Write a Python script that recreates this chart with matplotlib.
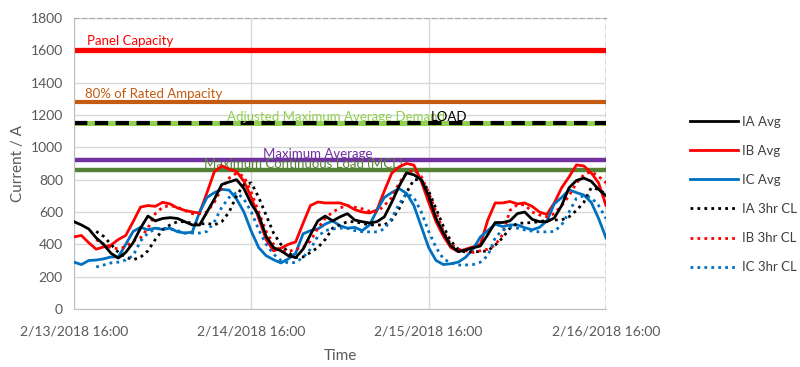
import matplotlib
matplotlib.use("Agg")
import matplotlib.pyplot as plt
import numpy as np
import pandas as pd

# hourly readings from 2/13/2018 16:00 to 2/16/2018 16:00
start = "2018-02-13 16:00"
tick_labels = ["2/13/2018 16:00", "2/14/2018 16:00", "2/15/2018 16:00", "2/16/2018 16:00"]

ia_avg = [540, 520, 495, 440, 400, 345, 315, 350, 410, 500, 575, 545, 560, 565, 560, 540, 520, 520,
          600, 680, 770, 786, 800, 745, 650, 580, 450, 380, 360, 330, 318, 370, 460, 545, 575, 545,
          570, 590, 550, 540, 532, 540, 570, 660, 760, 842, 830, 800, 700, 560, 470, 390, 355, 365,
          378, 390, 460, 535, 535, 545, 590, 600, 555, 540, 540, 563, 640, 750, 795, 810, 790, 740, 700]
ib_avg = [446, 455, 410, 370, 384, 395, 430, 455, 540, 630, 640, 635, 660, 650, 625, 610, 600, 594,
          720, 850, 885, 865, 850, 790, 690, 560, 430, 360, 375, 400, 415, 530, 640, 662, 656, 656,
          656, 640, 615, 600, 594, 613, 730, 840, 879, 900, 890, 790, 660, 540, 450, 380, 355, 370,
          384, 400, 550, 656, 656, 665, 650, 656, 635, 600, 585, 656, 750, 817, 891, 885, 842, 780, 640]
ic_avg = [290, 275, 300, 303, 310, 322, 322, 400, 480, 505, 490, 500, 492, 500, 478, 470, 475, 600,
          690, 720, 740, 735, 680, 600, 480, 380, 330, 305, 285, 310, 345, 465, 485, 495, 525, 545,
          515, 500, 505, 485, 520, 610, 690, 720, 745, 715, 640, 510, 380, 300, 275, 280, 290, 320,
          370, 446, 485, 525, 510, 520, 520, 503, 490, 505, 545, 650, 690, 737, 720, 705, 660, 560, 440]

# 3 hour continuous load, first value at 19:00
ia_3hr = [480, 450, 400, 350, 320, 305, 320, 360, 430, 490, 520, 540, 540, 530, 525, 530, 520, 540,
          600, 700, 770, 780, 690, 580, 470, 400, 350, 318, 322, 350, 380, 430, 500, 520, 540, 540,
          530, 520, 520, 520, 550, 620, 720, 800, 800, 730, 620, 510, 420, 370, 350, 355, 355, 360,
          395, 440, 500, 530, 532, 535, 540, 550, 551, 551, 570, 610, 660, 750, 740, 710]
ib_3hr = [430, 400, 380, 372, 385, 420, 440, 500, 590, 630, 640, 630, 610, 590, 590, 600, 660, 750,
          810, 840, 820, 720, 600, 480, 400, 360, 355, 370, 380, 420, 500, 560, 600, 625, 640, 630,
          620, 605, 600, 640, 690, 780, 840, 860, 820, 720, 600, 480, 400, 370, 360, 350, 360, 370,
          395, 460, 610, 645, 645, 600, 582, 570, 590, 640, 700, 780, 830, 850, 820, 780]
ic_3hr = [260, 272, 285, 290, 303, 330, 420, 470, 495, 500, 495, 485, 470, 470, 470, 480, 540, 630,
          690, 720, 680, 600, 490, 400, 340, 300, 285, 288, 320, 370, 450, 485, 495, 500, 500, 485,
          478, 477, 477, 495, 560, 650, 715, 690, 600, 480, 380, 310, 285, 272, 272, 275, 290, 330,
          440, 490, 505, 500, 489, 482, 477, 477, 480, 520, 600, 685, 700, 690, 640, 560]

panel_capacity = 1600
rated_80 = 1280
adj_max_avg_demand = 1150
max_average = 920
mcl = 860

plt.rcParams['font.family'] = ['Lato', 'DejaVu Sans']

times = pd.date_range(start, periods=len(ia_avg), freq="h")
t3 = times[3:]
ticks = times[::24]

fig = plt.figure(figsize=(8, 3.67), dpi=100)
ax = fig.add_axes([0.0925, 0.158, 0.665, 0.793])

# limit lines
ax.axhline(panel_capacity, color="#FF0000", lw=3.8, zorder=2)
ax.axhline(rated_80, color="#C55A11", lw=3.0, zorder=2)
ax.axhline(adj_max_avg_demand, color="#92D050", lw=3.6, zorder=2)
ax.axhline(adj_max_avg_demand, color="black", lw=3.0, ls=(0, (3.2, 1.8)), zorder=2)
ax.axhline(max_average, color="#7030A0", lw=3.2, zorder=2)
ax.axhline(mcl, color="#548235", lw=3.2, zorder=2)

h = lambda x: times[0] + pd.Timedelta(hours=x)
ax.text(h(1.7), 1655, "Panel Capacity", color="#FF0000", fontsize=9.5, va="center")
ax.text(h(1.5), 1330, "80% of Rated Ampacity", color="#C55A11", fontsize=9.5, va="center")
ax.text(h(35.5), 1185, "Adjusted Maximum Average Demand", color="#92D050", fontsize=9.5,
        va="center", ha="center")
ax.text(h(50.7), 1185, "LOAD", color="black", fontsize=9.5, va="center", ha="center")
ax.text(h(33), 960, "Maximum Average", color="#7030A0", fontsize=9.5, va="center", ha="center")
ax.text(h(31), 897, "Maximum Continuous Load (MCL)", color="#548235", fontsize=9.5,
        va="center", ha="center")

ax.plot(times, ia_avg, color="black", lw=2, label="IA Avg", zorder=4)
ax.plot(times, ib_avg, color="#FF0000", lw=2, label="IB Avg", zorder=3)
ax.plot(times, ic_avg, color="#0070C0", lw=2, label="IC Avg", zorder=3)
ax.plot(t3, ia_3hr, color="black", lw=2, ls=(0, (1, 1.5)), label="IA 3hr CL", zorder=3)
ax.plot(t3, ib_3hr, color="#FF0000", lw=2, ls=(0, (1, 1.5)), label="IB 3hr CL", zorder=3)
ax.plot(t3, ic_3hr, color="#0070C0", lw=2, ls=(0, (1, 1.5)), label="IC 3hr CL", zorder=3)

ax.axvline(times[-1], color="black", lw=0.9, ls=(0, (4, 3)), zorder=5)

ax.set_xlim(times[0], times[-1])
ax.set_ylim(0, 1800)
ax.set_yticks(np.arange(0, 1801, 200))
ax.set_xticks(ticks)
ax.set_xticklabels(tick_labels)
ax.grid(True, color="#D9D9D9", lw=1)
ax.set_axisbelow(True)
ax.tick_params(length=0, labelsize=10, colors="#595959", pad=8)
ax.tick_params(axis="x", pad=12)

for s in ["left", "bottom"]:
    ax.spines[s].set_color("#BFBFBF")
ax.spines["right"].set_visible(False)
ax.spines["top"].set_color("#A6A6A6")
ax.spines["top"].set_linestyle((0, (4, 3)))

ax.set_ylabel("Current / A", fontsize=11, color="#595959")
ax.set_xlabel("Time", fontsize=11, color="#595959", labelpad=8)

fig.legend(loc="center left", bbox_to_anchor=(0.848, 0.47), frameon=False, fontsize=9.5,
           handlelength=3.6, labelspacing=1.3, handletextpad=0.3, labelcolor="#404040")

fig.savefig("out.png", dpi=100)
